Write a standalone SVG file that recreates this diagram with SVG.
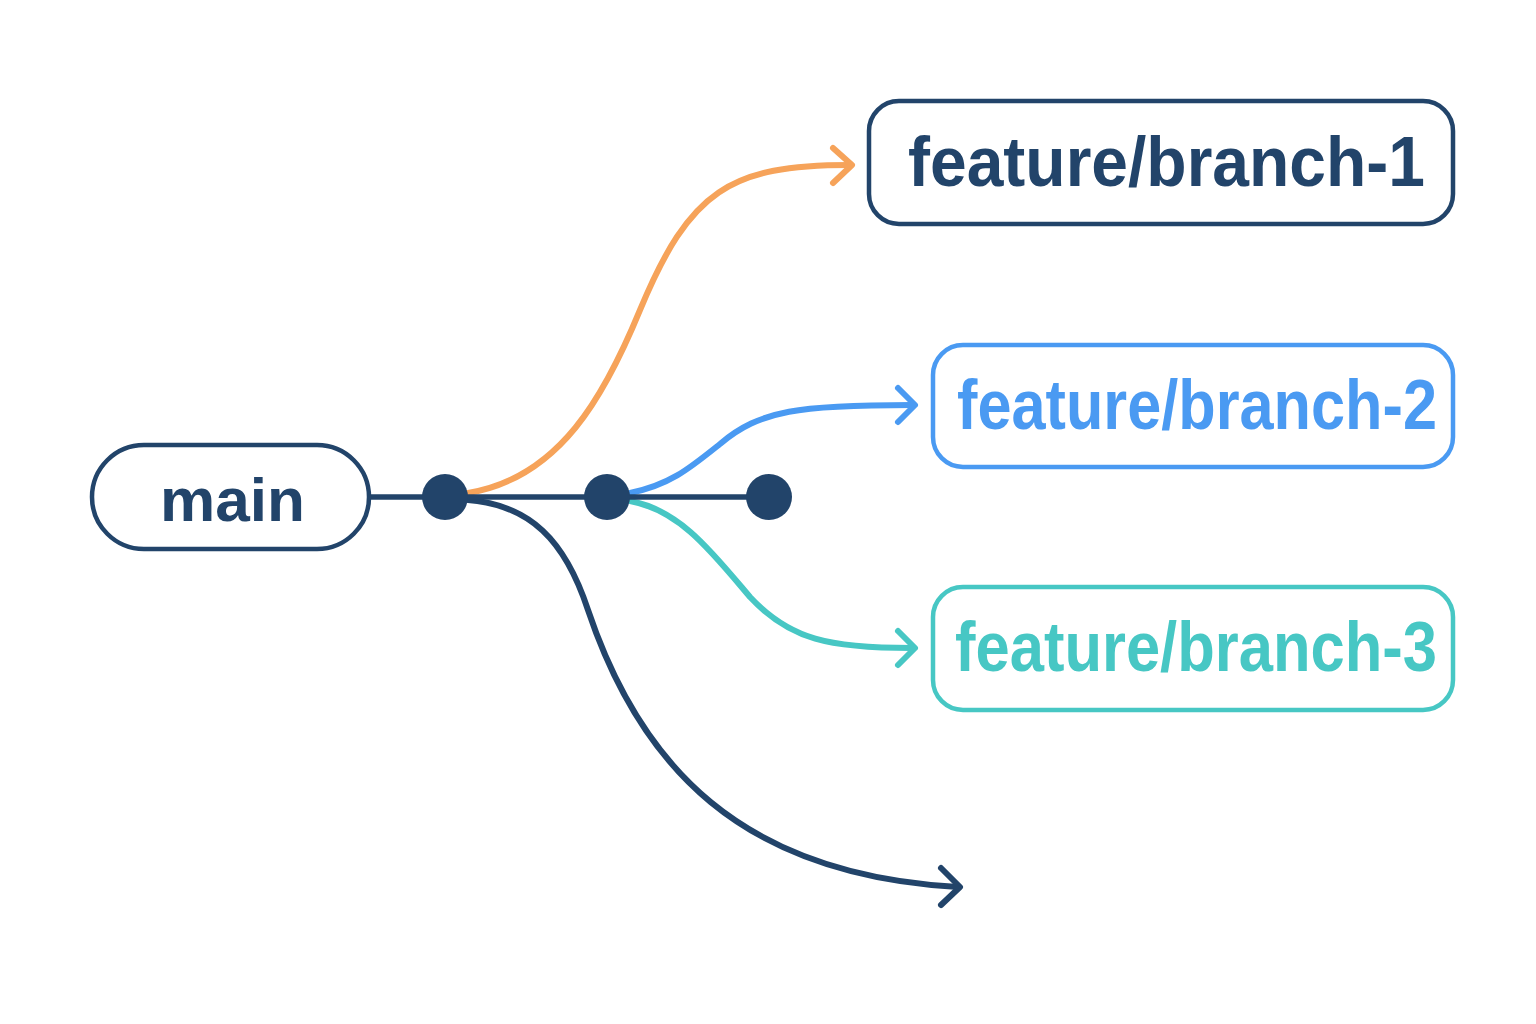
<svg xmlns="http://www.w3.org/2000/svg" width="1536" height="1024" viewBox="0 0 1536 1024">
<style>
.box{fill:#fff;stroke-width:4.5}
.lbl{font-family:"Liberation Sans",Arial,sans-serif;font-weight:bold}
.conn{fill:none;stroke-width:6;stroke-linecap:round;stroke-linejoin:round}
</style>
<rect width="1536" height="1024" fill="#fff"/>
<g id="connectors">
<path class="conn" stroke="#f6a35a" d="M468,493 C560,478 605,395 640,310 C690,190 730,165 850,165"/>
<path class="conn" stroke="#f6a35a" d="M833,148 L852,165 L833,183"/>
<path class="conn" stroke="#4a9af2" d="M630,493 C670,485 690,468 720,444 C760,410 800,405 912,405"/>
<path class="conn" stroke="#4a9af2" d="M898,388 L915,405 L898,422"/>
<path class="conn" stroke="#47c7c4" d="M630,501 C680,510 712,552 750,597 C790,640 830,648 912,648"/>
<path class="conn" stroke="#47c7c4" d="M898,631 L915,648 L898,665"/>
<path class="conn" stroke="#22446a" d="M468,500 C530,505 565,540 588,610 C640,765 740,875 958,887"/>
<path class="conn" stroke="#22446a" d="M941,868 L960,887 L941,905"/>
<line x1="369" y1="497" x2="769" y2="497" stroke="#22446a" stroke-width="5.5"/>
</g>
<g id="commits" fill="#22446a">
<circle cx="445" cy="497" r="23"/>
<circle cx="607" cy="497" r="23"/>
<circle cx="769" cy="497" r="23"/>
</g>
<g id="main">
<rect class="box" x="92" y="445" width="277" height="104" rx="52" stroke="#22446a"/>
<text class="lbl" x="160" y="521" font-size="62" fill="#22446a" textLength="145" lengthAdjust="spacingAndGlyphs">main</text>
</g>
<g id="branch1">
<rect class="box" x="869" y="101" width="584" height="123" rx="30" stroke="#22446a"/>
<text class="lbl" x="908" y="186" font-size="70" fill="#22446a" textLength="517" lengthAdjust="spacingAndGlyphs">feature/branch-1</text>
</g>
<g id="branch2">
<rect class="box" x="933" y="345" width="520" height="122" rx="30" stroke="#4a9af2"/>
<text class="lbl" x="957" y="429" font-size="70" fill="#4a9af2" textLength="480" lengthAdjust="spacingAndGlyphs">feature/branch-2</text>
</g>
<g id="branch3">
<rect class="box" x="933" y="587" width="520" height="123" rx="30" stroke="#47c7c4"/>
<text class="lbl" x="955" y="671" font-size="70" fill="#47c7c4" textLength="482" lengthAdjust="spacingAndGlyphs">feature/branch-3</text>
</g>
</svg>
